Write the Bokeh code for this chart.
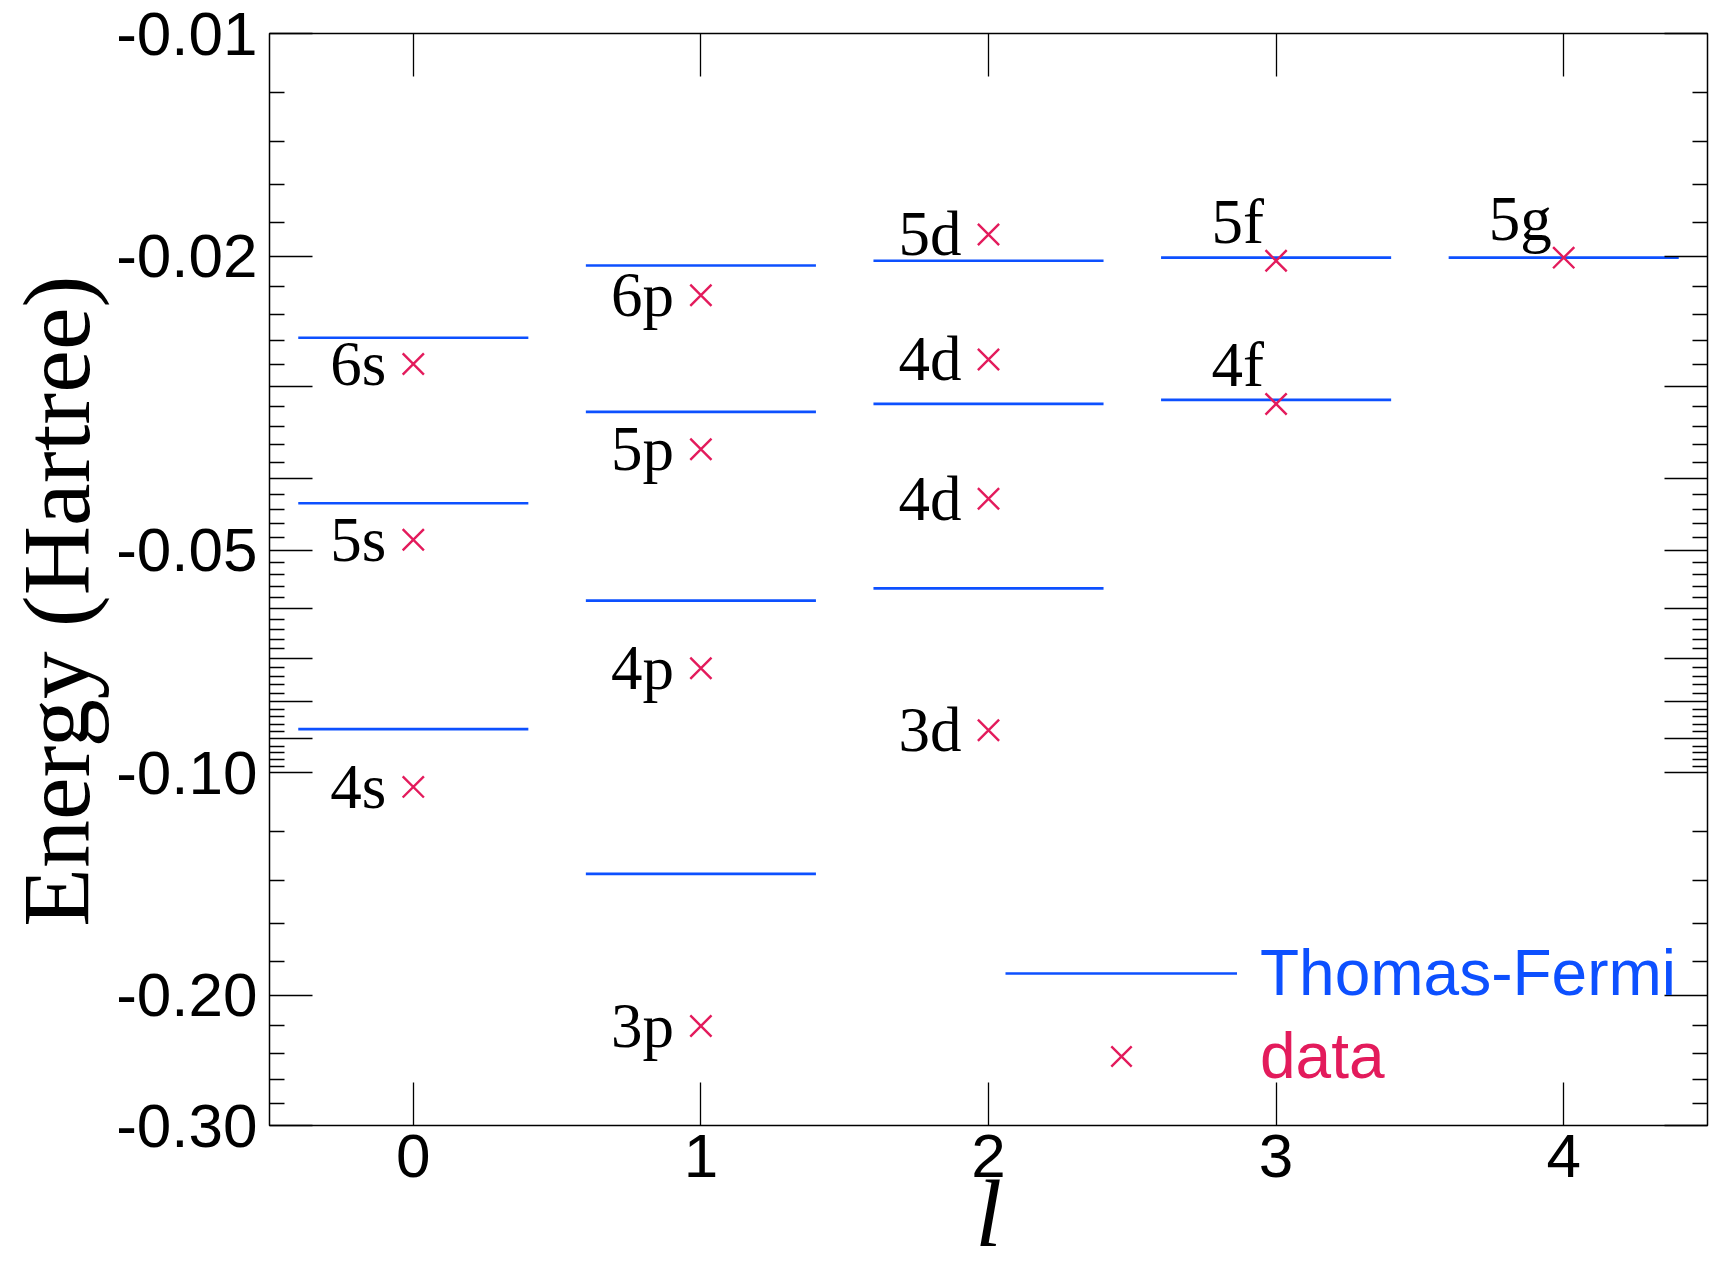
import math
from bokeh.plotting import figure
from bokeh.models import (Range1d, FixedTicker, LogAxis, LinearAxis, Legend, LegendItem,
                          ColumnDataSource, CustomJSTickFormatter)
from bokeh.core.properties import value
from bokeh.embed import file_html
from bokeh.resources import INLINE

# Thomas-Fermi levels by orbital angular momentum l (Hartree)
tf_l = [0, 0, 0, 1, 1, 1, 1, 2, 2, 2, 3, 3, 4]
tf_energy = [-0.0258, -0.0432, -0.0873,
             -0.0206, -0.0325, -0.0585, -0.137,
             -0.0203, -0.0317, -0.0563,
             -0.0201, -0.0313,
             -0.0201]

# measured levels (Hartree) and their state names
data_l = [0, 0, 0, 1, 1, 1, 1, 2, 2, 2, 2, 3, 3, 4]
data_energy = [-0.0280, -0.0484, -0.1045,
               -0.0226, -0.0365, -0.0722, -0.220,
               -0.0187, -0.0276, -0.0426, -0.0876,
               -0.0203, -0.0317,
               -0.0201]
data_state = ["6s", "5s", "4s", "6p", "5p", "4p", "3p",
              "5d", "4d", "4d", "3d", "5f", "4f", "5g"]

x_ticks = [0, 1, 2, 3, 4]
y_label_energy = [-0.01, -0.02, -0.05, -0.10, -0.20, -0.30]
y_label_text = ["-0.01", "-0.02", "-0.05", "-0.10", "-0.20", "-0.30"]

BLUE = "#0d50ff"
RED = "#e31b5c"
HALF = 0.4            # half width of a level bar in l units
SANS = "Liberation Sans"
SERIF = "Liberation Serif"

W, H = 1710, 1270
BL, BR, BT, BB = 269, 3, 33, 145
Y_LO, Y_HI = 0.01, 0.3

# |E| is plotted on a log axis, most bound at the bottom
p = figure(width=W, height=H,
           x_range=Range1d(-0.5, 4.5), y_range=Range1d(Y_HI, Y_LO),
           y_axis_type="log", output_backend="svg", toolbar_location=None,
           min_border_left=BL, min_border_right=BR,
           min_border_top=BT, min_border_bottom=BB)
p.xgrid.visible = False
p.ygrid.visible = False
p.outline_line_color = "black"
p.outline_line_width = 1.5
p.background_fill_color = "white"
p.border_fill_color = "white"

tf_src = ColumnDataSource(dict(
    x0=[l - HALF for l in tf_l], x1=[l + HALF for l in tf_l],
    y=[-e for e in tf_energy]))
tf_r = p.segment(x0="x0", y0="y", x1="x1", y1="y", source=tf_src,
                 line_color=BLUE, line_width=2.6)

pt_src = ColumnDataSource(dict(x=data_l, y=[-e for e in data_energy]))
pt_r = p.scatter(x="x", y="y", source=pt_src, marker="x", size=30,
                 line_color=RED, line_width=2.4)

# state names: beside the marker for s, p, d; raised above it for f and g
px_per_decade = (H - BT - BB) / math.log10(Y_HI / Y_LO)
lift = 10 ** (-39 / px_per_decade)
side = dict(x=[], y=[], t=[])
top = dict(x=[], y=[], t=[])
for l, e, s in zip(data_l, data_energy, data_state):
    if l >= 3:
        top["x"].append(l)
        top["y"].append(-e * lift)
        top["t"].append(s)
    else:
        side["x"].append(l)
        side["y"].append(-e)
        side["t"].append(s)
p.text(x="x", y="y", text="t", source=ColumnDataSource(side),
       text_font=value(SERIF), text_font_size="63px", text_color="black",
       text_align="right", text_baseline="middle", x_offset=-27)
p.text(x="x", y="y", text="t", source=ColumnDataSource(top),
       text_font=value(SERIF), text_font_size="63px", text_color="black",
       text_align="right", text_baseline="middle", x_offset=-12)

# axes: inward ticks on all four sides
major_y = [round(0.01 * k, 2) for k in range(1, 10)] + [0.1, 0.2, 0.3]
minor_y = [round(0.002 * k, 3) for k in range(6, 50) if k % 5] + \
          [round(0.02 * k, 2) for k in range(6, 15) if k % 5]
y_ticker = FixedTicker(ticks=major_y, minor_ticks=minor_y)
x_ticker = FixedTicker(ticks=x_ticks, minor_ticks=[])
blank = CustomJSTickFormatter(code="return ''")


def style(ax, show_labels):
    ax.axis_line_color = None
    ax.major_tick_out = 0
    ax.major_tick_in = 43
    ax.minor_tick_out = 0
    ax.minor_tick_in = 15
    ax.major_tick_line_color = "black"
    ax.minor_tick_line_color = "black"
    ax.major_tick_line_width = 1.3
    ax.minor_tick_line_width = 1.3
    if show_labels:
        ax.major_label_text_font = SANS
        ax.major_label_text_font_size = "62px"
        ax.major_label_text_color = "black"
    else:
        ax.major_label_text_font_size = "0px"
        ax.major_label_standoff = 0


xa = p.xaxis[0]
xa.ticker = x_ticker
style(xa, True)
xa.major_label_standoff = 9
xa.axis_label = "l"
xa.axis_label_text_font = SERIF
xa.axis_label_text_font_style = "italic"
xa.axis_label_text_font_size = "96px"
xa.axis_label_text_color = "black"
xa.axis_label_standoff = -20

ya = p.yaxis[0]
ya.ticker = y_ticker
ya.formatter = blank
ya.major_label_overrides = {-e: t for e, t in zip(y_label_energy, y_label_text)}
style(ya, True)
ya.major_label_standoff = 12
# the trailing no-break/thin space sets the title a little below centre
ya.axis_label = "Energy (Hartree)\u00a0\u2009"
ya.axis_label_text_font = SERIF
ya.axis_label_text_font_style = "normal"
ya.axis_label_text_font_size = "96px"
ya.axis_label_text_color = "black"
ya.axis_label_standoff = 3

ra = LogAxis(ticker=y_ticker, formatter=blank)
style(ra, False)
p.add_layout(ra, "right")

ta = LinearAxis(ticker=x_ticker, formatter=blank)
style(ta, False)
p.add_layout(ta, "above")

# legend: one entry per series so each label takes its series colour
for label, rend, color, loc in [("Thomas-Fermi", tf_r, BLUE, (736, 115)),
                                ("data", pt_r, RED, (736, 32))]:
    lg = Legend(items=[LegendItem(label=label, renderers=[rend])], location=loc,
                glyph_width=232, glyph_height=72, label_height=72,
                label_standoff=23, padding=0, margin=0, spacing=0,
                border_line_color=None, background_fill_alpha=0,
                label_text_font=SANS, label_text_font_size="64px",
                label_text_color=color)
    p.add_layout(lg)

open("out.html", "w").write(file_html(p, INLINE))
